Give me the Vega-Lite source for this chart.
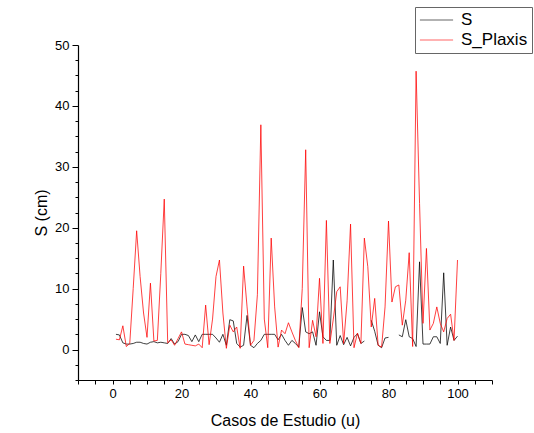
{
  "$schema": "https://vega.github.io/schema/vega-lite/v6.json",
  "width": 414,
  "height": 335,
  "autosize": {"type": "none"},
  "padding": {"left": 78, "top": 45, "right": 42, "bottom": 53},
  "background": "white",
  "config": {
    "view": {"stroke": null},
    "font": "Liberation Sans",
    "axis": {
      "domainColor": "#000000",
      "domainWidth": 1.2,
      "tickColor": "#000000",
      "tickWidth": 1,
      "labelColor": "#000000",
      "titleColor": "#000000",
      "labelFont": "Liberation Sans",
      "titleFont": "Liberation Sans",
      "labelFontSize": 13,
      "titleFontSize": 16,
      "titleFontWeight": "normal",
      "grid": false
    }
  },
  "data": {
    "values": [
      {"x": 1, "S": 2.5, "S_Plaxis": 1.7},
      {"x": 2, "S": 2.4, "S_Plaxis": 1.6},
      {"x": 3, "S": 1.1, "S_Plaxis": 3.9},
      {"x": 4, "S": 0.9, "S_Plaxis": 0.5},
      {"x": 5, "S": 0.9, "S_Plaxis": 1.0},
      {"x": 6, "S": 1.0, "S_Plaxis": 10},
      {"x": 7, "S": 1.2, "S_Plaxis": 19.5},
      {"x": 8, "S": 1.2, "S_Plaxis": 12},
      {"x": 9, "S": 1.0, "S_Plaxis": 6},
      {"x": 10, "S": 0.9, "S_Plaxis": 2},
      {"x": 11, "S": 1.2, "S_Plaxis": 10.9},
      {"x": 12, "S": 1.3, "S_Plaxis": 1.4},
      {"x": 13, "S": 1.1, "S_Plaxis": 1.5},
      {"x": 14, "S": 1.2, "S_Plaxis": 12.5},
      {"x": 15, "S": 1.1, "S_Plaxis": 24.7},
      {"x": 16, "S": 1.0, "S_Plaxis": 1.1},
      {"x": 17, "S": 1.8, "S_Plaxis": 1.6},
      {"x": 18, "S": 0.9, "S_Plaxis": 0.7},
      {"x": 19, "S": 1.3, "S_Plaxis": 1.8},
      {"x": 20, "S": 2.5, "S_Plaxis": 2.9},
      {"x": 21, "S": 2.5, "S_Plaxis": 0.9},
      {"x": 22, "S": 2.3, "S_Plaxis": 0.8},
      {"x": 23, "S": 1.3, "S_Plaxis": 0.7},
      {"x": 24, "S": 2.4, "S_Plaxis": 0.6},
      {"x": 25, "S": 1.3, "S_Plaxis": 0.9},
      {"x": 26, "S": 2.5, "S_Plaxis": 0.3},
      {"x": 27, "S": 2.5, "S_Plaxis": 7.3},
      {"x": 28, "S": 2.5, "S_Plaxis": 0.8},
      {"x": 29, "S": 2.5, "S_Plaxis": 5},
      {"x": 30, "S": 1.9, "S_Plaxis": 12},
      {"x": 31, "S": 1.2, "S_Plaxis": 14.7},
      {"x": 32, "S": 2.5, "S_Plaxis": 6},
      {"x": 33, "S": 0.7, "S_Plaxis": 0.2},
      {"x": 34, "S": 4.9, "S_Plaxis": 4.0},
      {"x": 35, "S": 4.7, "S_Plaxis": 2.9},
      {"x": 36, "S": 1.0, "S_Plaxis": 3.7},
      {"x": 37, "S": 0.4, "S_Plaxis": 0.2},
      {"x": 38, "S": 0.7, "S_Plaxis": 13.7},
      {"x": 39, "S": 5.6, "S_Plaxis": 7},
      {"x": 40, "S": 0.7, "S_Plaxis": 0.7},
      {"x": 41, "S": 0.3, "S_Plaxis": 1.5},
      {"x": 42, "S": 1.0, "S_Plaxis": 9},
      {"x": 43, "S": 1.5, "S_Plaxis": 36.9},
      {"x": 44, "S": 2.5, "S_Plaxis": 5},
      {"x": 45, "S": 2.5, "S_Plaxis": 0.3},
      {"x": 46, "S": 2.5, "S_Plaxis": 18.3},
      {"x": 47, "S": 2.5, "S_Plaxis": 7},
      {"x": 48, "S": 1.6, "S_Plaxis": 0.4},
      {"x": 49, "S": 2.5, "S_Plaxis": 3.2},
      {"x": 50, "S": 1.5, "S_Plaxis": 2.6},
      {"x": 51, "S": 0.7, "S_Plaxis": 4.4},
      {"x": 52, "S": 1.5, "S_Plaxis": 2.9},
      {"x": 53, "S": 1.0, "S_Plaxis": 1.5},
      {"x": 54, "S": 0.4, "S_Plaxis": 0.3},
      {"x": 55, "S": 6.9, "S_Plaxis": 10},
      {"x": 56, "S": 2.9, "S_Plaxis": 32.8},
      {"x": 57, "S": 2.6, "S_Plaxis": 0.3},
      {"x": 58, "S": 2.9, "S_Plaxis": 4.8},
      {"x": 59, "S": 0.7, "S_Plaxis": 2.1},
      {"x": 60, "S": 6.2, "S_Plaxis": 11.7},
      {"x": 61, "S": 2.1, "S_Plaxis": 1.0},
      {"x": 62, "S": 1.5, "S_Plaxis": 21.2},
      {"x": 63, "S": 1.5, "S_Plaxis": 1.0},
      {"x": 64, "S": 14.7, "S_Plaxis": 5},
      {"x": 65, "S": 0.7, "S_Plaxis": 9.5},
      {"x": 66, "S": 2.3, "S_Plaxis": 10.3},
      {"x": 67, "S": 0.8, "S_Plaxis": 1.0},
      {"x": 68, "S": 2.0, "S_Plaxis": 8},
      {"x": 69, "S": 0.6, "S_Plaxis": 20.6},
      {"x": 70, "S": 2.0, "S_Plaxis": 0.3},
      {"x": 71, "S": 2.6, "S_Plaxis": 2.7},
      {"x": 72, "S": 1.0, "S_Plaxis": 1.0},
      {"x": 73, "S": 1.4, "S_Plaxis": 18.3},
      {"x": 74, "S": null, "S_Plaxis": 13.6},
      {"x": 75, "S": 4.8, "S_Plaxis": 3.7},
      {"x": 76, "S": 3.0, "S_Plaxis": 8.4},
      {"x": 77, "S": 0.7, "S_Plaxis": 0.7},
      {"x": 78, "S": 0.3, "S_Plaxis": 0.4},
      {"x": 79, "S": 1.9, "S_Plaxis": 7},
      {"x": 80, "S": 2.0, "S_Plaxis": 21.1},
      {"x": 81, "S": null, "S_Plaxis": 7.8},
      {"x": 82, "S": null, "S_Plaxis": 10.3},
      {"x": 83, "S": 2.4, "S_Plaxis": 10.6},
      {"x": 84, "S": 2.1, "S_Plaxis": 4.0},
      {"x": 85, "S": 4.9, "S_Plaxis": 8.1},
      {"x": 86, "S": 2.1, "S_Plaxis": 15.9},
      {"x": 87, "S": 1.8, "S_Plaxis": 0.5},
      {"x": 88, "S": 0.5, "S_Plaxis": 45.7},
      {"x": 89, "S": 14.4, "S_Plaxis": 24},
      {"x": 90, "S": 0.9, "S_Plaxis": 4.3},
      {"x": 91, "S": 0.9, "S_Plaxis": 16.6},
      {"x": 92, "S": 0.9, "S_Plaxis": 3.2},
      {"x": 93, "S": 2.1, "S_Plaxis": 4.3},
      {"x": 94, "S": 2.1, "S_Plaxis": 7.0},
      {"x": 95, "S": 1.0, "S_Plaxis": 4.3},
      {"x": 96, "S": 12.6, "S_Plaxis": 2.9},
      {"x": 97, "S": 0.7, "S_Plaxis": 5.1},
      {"x": 98, "S": 3.7, "S_Plaxis": 5.8},
      {"x": 99, "S": 1.5, "S_Plaxis": 1.5},
      {"x": 100, "S": 2.2, "S_Plaxis": 14.7}
    ]
  },
  "transform": [{"fold": ["S", "S_Plaxis"], "as": ["series", "value"]}],
  "mark": {"type": "line", "strokeWidth": 1, "opacity": 0.75, "invalid": "break-paths-filter-domains"},
  "encoding": {
    "x": {
      "field": "x",
      "type": "quantitative",
      "scale": {"domain": [-10, 110], "nice": false, "zero": false},
      "axis": {
        "values": [-10, -5, 0, 5, 10, 15, 20, 25, 30, 35, 40, 45, 50, 55, 60, 65, 70, 75, 80, 85, 90, 95, 100, 105, 110],
        "labelExpr": "datum.value % 20 === 0 ? datum.label : ''",
        "tickSize": 4,
        "labelPadding": 3,
        "labelFlush": false,
        "labelOverlap": false,
        "title": "Casos de Estudio (u)",
        "titlePadding": 12
      }
    },
    "y": {
      "field": "value",
      "type": "quantitative",
      "scale": {"domain": [-5, 50], "nice": false, "zero": false},
      "axis": {
        "values": [-5, -2.5, 0, 2.5, 5, 7.5, 10, 12.5, 15, 17.5, 20, 22.5, 25, 27.5, 30, 32.5, 35, 37.5, 40, 42.5, 45, 47.5, 50],
        "labelExpr": "datum.value % 10 === 0 ? datum.label : ''",
        "tickSize": {"condition": {"test": "datum.value % 10 === 0", "value": 6}, "value": 3},
        "labelPadding": 3,
        "labelFlush": false,
        "labelOverlap": false,
        "title": "S (cm)",
        "titlePadding": 5
      }
    },
    "color": {
      "field": "series",
      "type": "nominal",
      "scale": {"domain": ["S", "S_Plaxis"], "range": ["#000000", "#ff0000"]},
      "legend": {
        "title": null,
        "orient": "none",
        "legendX": 337,
        "legendY": -38,
        "strokeColor": "#666666",
        "fillColor": "white",
        "padding": 4,
        "symbolType": "stroke",
        "symbolSize": 1100,
        "symbolStrokeWidth": 1,
        "symbolOpacity": 0.6,
        "clipHeight": 18,
        "labelFontSize": 17,
        "labelFont": "Liberation Sans",
        "labelColor": "#000000",
        "labelOffset": 7,
        "rowPadding": 2
      }
    }
  }
}
